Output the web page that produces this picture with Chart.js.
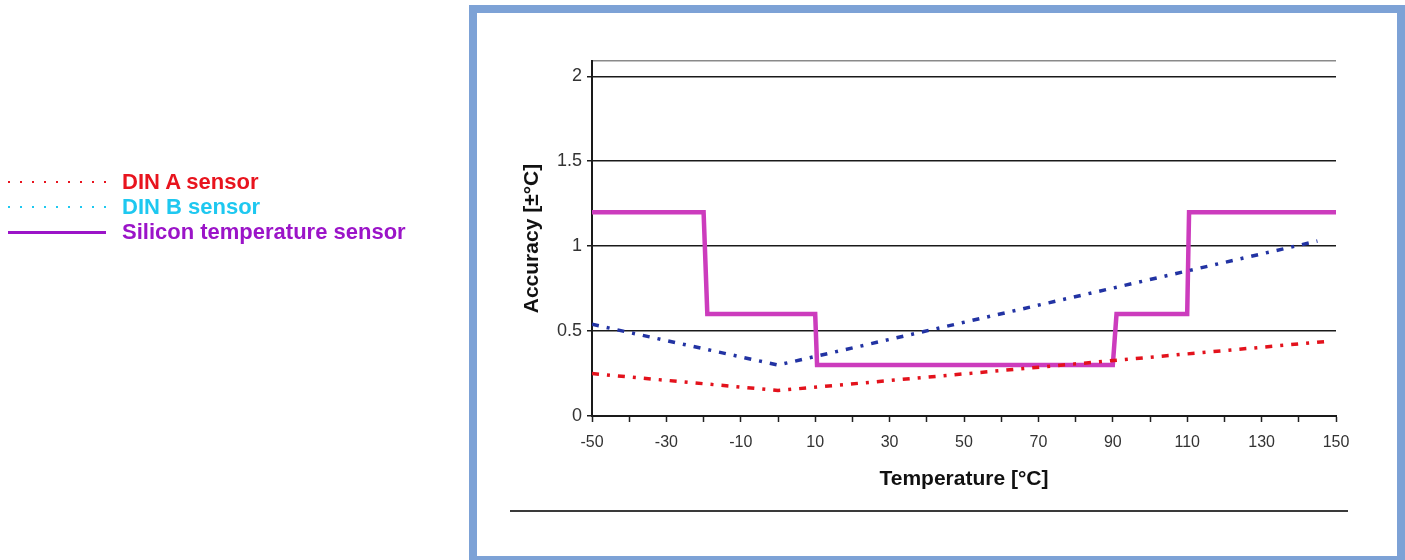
<!DOCTYPE html>
<html>
<head>
<meta charset="utf-8">
<script src="https://cdn.jsdelivr.net/npm/chart.js@4.4.0/dist/chart.umd.min.js"></script>
<style>
  body { margin: 0; background: #fff; }
  .page { position: relative; width: 1405px; height: 560px; overflow: hidden; }
  .frame { position: absolute; left: 469px; top: 5px; width: 936px; height: 559px; box-sizing: border-box; border: 8px solid #7da2d6; }
  .divider { position: absolute; left: 510px; top: 510px; width: 838px; height: 2px; background: #3a3a3a; }
  #chart { position: absolute; left: 0; top: 0; }
  .legend { position: absolute; left: 8px; top: 169px; font: bold 22px "Liberation Sans", Arial, sans-serif; }
  .legend div { height: 25px; line-height: 25px; position: relative; padding-left: 114px; white-space: nowrap; }
  .legend span.swatch { position: absolute; left: 0; top: 12px; width: 98px; height: 2px; }
</style>
</head>
<body>
<div class="page">
  <div class="frame"></div>
  <div class="divider"></div>
  <canvas id="chart" width="1405" height="560"></canvas>
  <div class="legend" id="legend"></div>
</div>
<script>
// temperatures in degC, accuracy in +/- degC
const dinATemp = [-50, 0, 148];
const dinAAcc = [0.25, 0.15, 0.44];
const dinBTemp = [-50, 0, 145];
const dinBAcc = [0.54, 0.30, 1.03];
const siliconTemp = [-50, -20, -19, 10, 10.5, 90, 91, 110, 110.5, 150];
const siliconAcc = [1.2, 1.2, 0.6, 0.6, 0.3, 0.3, 0.6, 0.6, 1.2, 1.2];

const xTicks = [-50, -40, -30, -20, -10, 0, 10, 20, 30, 40, 50, 60, 70, 80, 90, 100, 110, 120, 130, 140, 150];
const xLabels = [-50, -30, -10, 10, 30, 50, 70, 90, 110, 130, 150];
const yTicks = [0, 0.5, 1, 1.5, 2];
const yTop = 2.09;

const legendItems = [
  { label: "DIN A sensor", color: "#e8141e", dotted: true },
  { label: "DIN B sensor", color: "#1ec8f0", dotted: true },
  { label: "Silicon temperature sensor", color: "#9b14c8", dotted: false }
];

var legend = document.getElementById("legend");
legendItems.forEach(function (item) {
  var row = document.createElement("div");
  row.style.color = item.color;
  var sw = document.createElement("span");
  sw.className = "swatch";
  if (item.dotted) {
    sw.style.background = "repeating-linear-gradient(to right, " + item.color + " 0 2px, transparent 2px 12px)";
  } else {
    sw.style.background = item.color;
    sw.style.height = "3px";
  }
  row.appendChild(sw);
  row.appendChild(document.createTextNode(item.label));
  legend.appendChild(row);
});

function pts(xs, ys) {
  return xs.map(function (x, i) { return { x: x, y: ys[i] }; });
}

var ctx = document.getElementById("chart").getContext("2d");
var myChart = new Chart(ctx, {
  type: "line",
  data: {
    datasets: [
      {
        label: "DIN A sensor",
        data: pts(dinATemp, dinAAcc),
        borderColor: "#e3121c",
        borderWidth: 3.5,
        borderDash: [7, 8, 3, 8],
        pointRadius: 0,
        order: 1
      },
      {
        label: "DIN B sensor",
        data: pts(dinBTemp, dinBAcc),
        borderColor: "#2233a3",
        borderWidth: 3.5,
        borderDash: [7, 8, 3, 8],
        pointRadius: 0,
        order: 2
      },
      {
        label: "Silicon temperature sensor",
        data: pts(siliconTemp, siliconAcc),
        borderColor: "#cc3cbd",
        borderWidth: 4.5,
        pointRadius: 0,
        order: 3
      }
    ]
  },
  options: {
    responsive: false,
    animation: false,
    layout: { padding: { left: 520, right: 69, top: 61, bottom: 68 } },
    plugins: { legend: { display: false }, tooltip: { enabled: false } },
    scales: {
      x: {
        type: "linear",
        min: -50,
        max: 150,
        afterFit: function (scale) { scale.height = 76; },
        afterBuildTicks: function (scale) {
          scale.ticks = xTicks.map(function (v) { return { value: v }; });
        },
        ticks: {
          autoSkip: false,
          maxRotation: 0,
          padding: 11,
          color: "#333",
          font: { family: "'Liberation Sans', Arial, sans-serif", size: 16 },
          callback: function (v) { return xLabels.indexOf(v) >= 0 ? String(v) : ""; }
        },
        grid: { drawOnChartArea: false, drawTicks: true, tickLength: 6, tickColor: "#222", tickWidth: 1.5 },
        border: { color: "#1a1a1a", width: 2 },
        title: {
          display: true,
          text: "Temperature [°C]",
          color: "#111",
          padding: 0,
          font: { family: "'Liberation Sans', Arial, sans-serif", size: 21, weight: "bold" }
        }
      },
      y: {
        min: 0,
        max: yTop,
        afterFit: function (scale) { scale.width = 72; },
        afterBuildTicks: function (scale) {
          scale.ticks = yTicks.concat([yTop]).map(function (v) { return { value: v }; });
        },
        ticks: {
          padding: 5,
          color: "#333",
          font: { family: "'Liberation Sans', Arial, sans-serif", size: 18 },
          callback: function (v) { return v === yTop ? "" : String(v); }
        },
        grid: {
          tickLength: 5,
          color: function (c) { return c.tick && c.tick.value === yTop ? "#8a8a8a" : "#1a1a1a"; },
          tickColor: function (c) { return c.tick && c.tick.value === yTop ? "rgba(0,0,0,0)" : "#1a1a1a"; },
          lineWidth: 1.5
        },
        border: { color: "#1a1a1a", width: 2 },
        title: {
          display: true,
          text: "Accuracy [±°C]",
          color: "#111",
          padding: 0,
          font: { family: "'Liberation Sans', Arial, sans-serif", size: 21, weight: "bold" }
        }
      }
    }
  }
});
</script>
</body>
</html>
